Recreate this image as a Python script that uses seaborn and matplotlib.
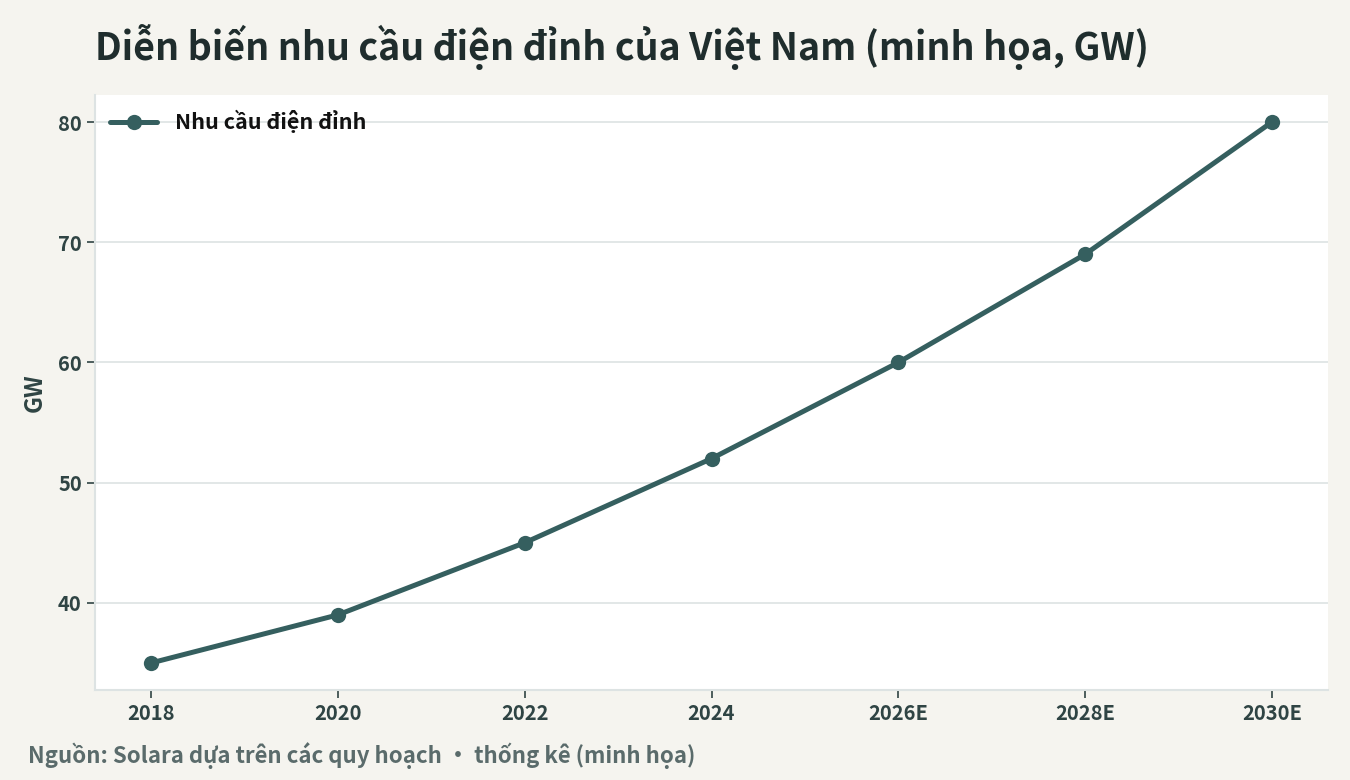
import matplotlib
matplotlib.use('Agg')
import matplotlib.pyplot as plt
import seaborn as sns
import pandas as pd

# Data (illustrative peak power demand, GW)
years = ['2018', '2020', '2022', '2024', '2026E', '2028E', '2030E']
demand_gw = [35, 39, 45, 52, 60, 69, 80]
series_label = 'Nhu cầu điện đỉnh'

TITLE = 'Diễn biến nhu cầu điện đỉnh của Việt Nam (minh họa, GW)'
SOURCE = 'Nguồn: Solara dựa trên các quy hoạch · thống kê (minh họa)'

BG = '#f5f4ef'
LINE = '#355f5f'
DARK = '#1f2d2d'
TICK = '#2f4444'
GRID = '#dde3e3'

sns.set_theme(style='whitegrid')
plt.rcParams['font.family'] = ['Noto Sans CJK SC', 'DejaVu Sans']
plt.rcParams['font.weight'] = 'bold'

df = pd.DataFrame({'year': years, 'gw': demand_gw})

fig = plt.figure(figsize=(13.5, 7.8), dpi=100, facecolor=BG)
ax = fig.add_axes([95 / 1350, 90 / 780, (1328 - 95) / 1350, (690 - 95) / 780])
ax.set_facecolor('white')

sns.lineplot(data=df, x='year', y='gw', ax=ax, color=LINE, linewidth=3.6,
             marker='o', markersize=11, markeredgewidth=0, label=series_label,
             sort=False)

ax.grid(axis='y', color=GRID, linewidth=1.2)
ax.grid(axis='x', visible=False)
for side in ['top', 'right']:
    ax.spines[side].set_visible(False)
for side in ['left', 'bottom']:
    ax.spines[side].set_color(GRID)
    ax.spines[side].set_linewidth(1.5)

ax.tick_params(axis='both', which='both', length=6, width=1.2, color=TICK,
               labelsize=14.5, labelcolor=TICK, bottom=True, left=True)
for lab in ax.get_xticklabels() + ax.get_yticklabels():
    lab.set_fontweight('bold')
ax.set_yticks([40, 50, 60, 70, 80])
ax.set_xlabel('')
ax.set_ylabel('GW', fontsize=17, fontweight='bold', color=TICK, labelpad=8)

leg = ax.legend(loc='upper left', frameon=False, fontsize=15.5,
                borderaxespad=0.3, handlelength=2.2)
for t in leg.get_texts():
    t.set_fontweight('bold')
    t.set_color('#111111')

fig.text(95 / 1350, 1 - 47 / 780, TITLE, fontsize=27, fontweight='bold',
         color=DARK, va='center', ha='left')
fig.text(28 / 1350, 1 - 756 / 780, SOURCE, fontsize=16, fontweight='bold',
         color='#5a6b6b', va='center', ha='left')

fig.savefig('out.png', dpi=100, facecolor=BG)
